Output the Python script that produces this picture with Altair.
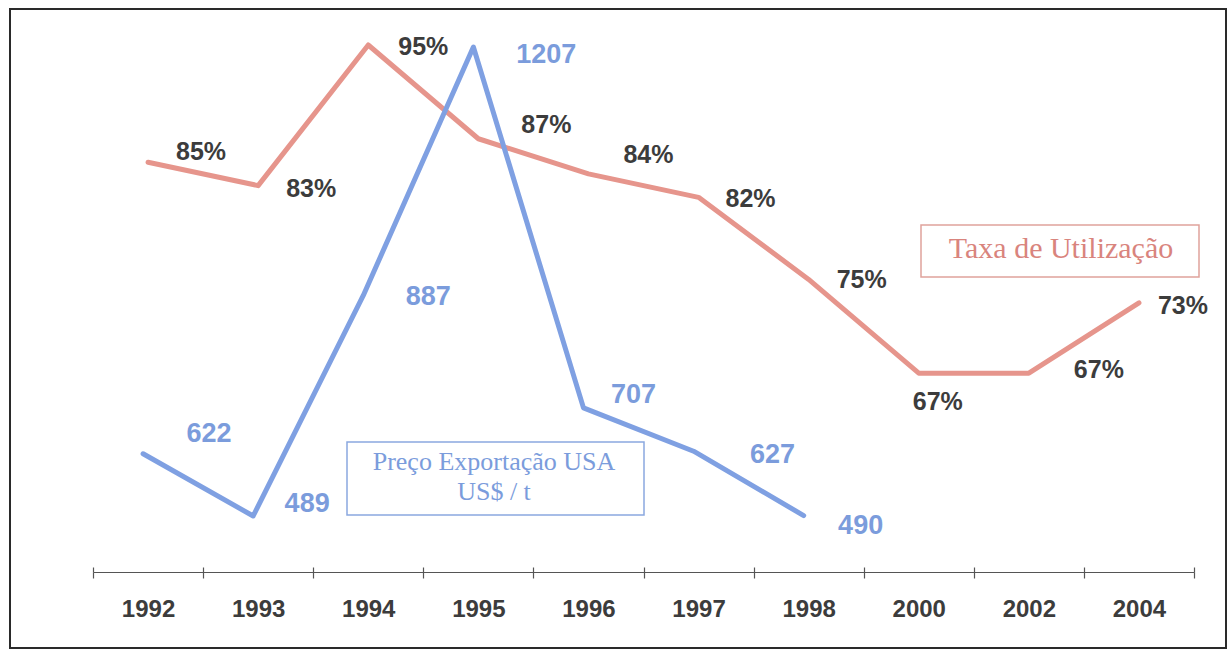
import altair as alt
import pandas as pd

# ---- data ----
anos = ["1992", "1993", "1994", "1995", "1996", "1997", "1998", "2000", "2002", "2004"]
taxa_utilizacao = [85, 83, 95, 87, 84, 82, 75, 67, 67, 73]
anos_preco = ["1992", "1993", "1994", "1995", "1996", "1997", "1998"]
preco_exportacao = [622, 489, 887, 1207, 707, 627, 490]
titulo_taxa = "Taxa de Utilização"
titulo_preco = "Preço Exportação USA\nUS$ / t"

taxa_df = pd.DataFrame({"ano": anos, "taxa": taxa_utilizacao,
                        "rotulo": [f"{v}%" for v in taxa_utilizacao]})
preco_df = pd.DataFrame({"ano": anos_preco, "preco": preco_exportacao,
                         "rotulo": [str(v) for v in preco_exportacao]})
one = pd.DataFrame({"k": [0]})

# ---- style ----
RED = "#e6958c"
BLUE = "#7fa0e2"
RED_TXT = "#d9847d"
BLUE_TXT = "#7b9cdc"
DARK = "#3c3c3c"
W, H = 1216, 639

# label offsets (style: where each label sits relative to its point)
taxa_off = {"1992": (53, -10), "1993": (53, 3), "1994": (55, 2), "1995": (68, -14),
            "1996": (60, -19), "1997": (52, 2), "1998": (53, 1), "2000": (19, 29),
            "2002": (70, -3), "2004": (44, 3)}
preco_off = {"1992": (61, -20), "1993": (49, -12), "1994": (60, 2), "1995": (68, 8),
             "1996": (45, -13), "1997": (74, 4), "1998": (52, 10)}

xscale = alt.Scale(type="band", domain=anos, range=[83, 1184], paddingInner=0, paddingOuter=0)
y_taxa = alt.Scale(domain=[43.55, 98.07], nice=False, zero=False)
y_preco = alt.Scale(type="pow", exponent=1.8, domain=[489, 1207], range=[507, 38],
                    nice=False, zero=False)

x_bottom = alt.X("ano:N", scale=xscale, bandPosition=0.5, title=None,
                 axis=alt.Axis(orient="bottom", offset=-76, tickBand="extent",
                               tickSize=6, tickColor="#555", tickWidth=1.2,
                               domainColor="#555", domainWidth=1.2,
                               labelFont="Liberation Sans", labelFontWeight="bold",
                               labelFontSize=24, labelColor=DARK, labelPadding=19,
                               labelAngle=0, grid=False))
x_top = alt.X("ano:N", scale=xscale, bandPosition=0.455, title=None,
              axis=alt.Axis(orient="top", offset=-563, tickBand="extent",
                            tickSize=5, tickColor="#555", tickWidth=1.2,
                            domain=False, labels=False, grid=False))
x_plain = alt.X("ano:N", scale=xscale, bandPosition=0.5, axis=None)

red_line = alt.Chart(taxa_df).mark_line(color=RED, strokeWidth=5, strokeJoin="round",
                                        strokeCap="round").encode(
    x=x_bottom, y=alt.Y("taxa:Q", scale=y_taxa, axis=None))

blue_line = alt.Chart(preco_df).mark_line(color=BLUE, strokeWidth=5, strokeJoin="round",
                                          strokeCap="round").encode(
    x=x_top, y=alt.Y("preco:Q", scale=y_preco, axis=None))

layers = [red_line, blue_line]

for ano in anos:
    dx, dy = taxa_off[ano]
    layers.append(
        alt.Chart(taxa_df).transform_filter(alt.datum.ano == ano).mark_text(
            font="Liberation Sans", fontWeight="bold", fontSize=25, color=DARK,
            align="center", baseline="middle", dx=dx, dy=dy).encode(
            x=x_plain, y=alt.Y("taxa:Q", scale=y_taxa, axis=None), text="rotulo:N"))

for ano in anos_preco:
    dx, dy = preco_off[ano]
    layers.append(
        alt.Chart(preco_df).transform_filter(alt.datum.ano == ano).mark_text(
            font="Liberation Sans", fontWeight="bold", fontSize=27, color=BLUE_TXT,
            align="center", baseline="middle", dx=dx, dy=dy).encode(
            x=x_plain, y=alt.Y("preco:Q", scale=y_preco, axis=None), text="rotulo:N"))

# annotation boxes
box_taxa = alt.Chart(one).mark_rect(fillOpacity=0, stroke="#e0a39c", strokeWidth=1.5).encode(
    x=alt.value(911), x2=alt.value(1189), y=alt.value(216), y2=alt.value(268))
txt_taxa = alt.Chart(one).mark_text(font="Liberation Serif", fontSize=30, color=RED_TXT,
                                    align="center", baseline="alphabetic").encode(
    x=alt.value(1051), y=alt.value(249), text=alt.value(titulo_taxa))
box_preco = alt.Chart(one).mark_rect(fillOpacity=0, stroke="#8aa8e0", strokeWidth=1.5).encode(
    x=alt.value(337), x2=alt.value(634), y=alt.value(433), y2=alt.value(506))
txt_preco = alt.Chart(one).mark_text(font="Liberation Serif", fontSize=26, color=BLUE_TXT,
                                     align="center", baseline="alphabetic",
                                     lineBreak="\n", lineHeight=30).encode(
    x=alt.value(484), y=alt.value(461), text=alt.value(titulo_preco))

layers += [box_taxa, txt_taxa, box_preco, txt_preco]

chart = alt.layer(*layers).resolve_scale(y="independent").resolve_axis(
    x="independent").properties(
    width=W, height=H,
    padding={"left": 10, "top": 9, "right": 6, "bottom": 2},
    background="white").configure_view(stroke="#2a2a2a", strokeWidth=2)

chart.save("out.html", embed_options={"renderer": "svg", "actions": False})
